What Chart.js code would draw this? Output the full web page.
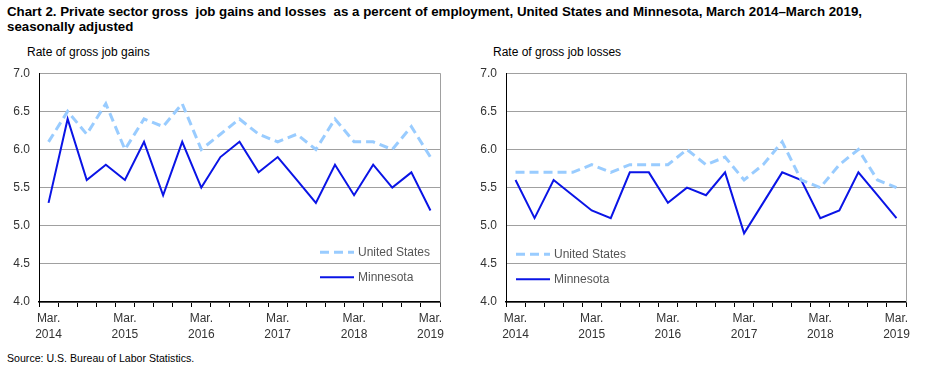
<!DOCTYPE html>
<html>
<head>
<meta charset="utf-8">
<script src="https://cdn.jsdelivr.net/npm/chart.js@4"></script>
<style>
  body { margin: 0; width: 930px; height: 372px; background: #fff; font-family: "Liberation Sans", Arial, sans-serif; position: relative; overflow: hidden; }
  #title { position: absolute; left: 7px; top: 4px; width: 900px; font-size: 13.3px; font-weight: bold; line-height: 15px; color: #000; }
  .sub { position: absolute; top: 45px; font-size: 12px; color: #000; }
  #source { position: absolute; left: 7px; top: 352px; font-size: 10.6px; color: #000; }
  .box { position: absolute; top: 57px; width: 465px; height: 290px; }
</style>
</head>
<body>
<div id="title">Chart 2. Private sector gross&nbsp; job gains and losses&nbsp; as a percent of employment, United States and Minnesota, March 2014–March 2019,<br>seasonally adjusted</div>
<div class="sub" style="left:27px">Rate of gross job gains</div>
<div class="sub" style="left:493px">Rate of gross job losses</div>
<div class="box" style="left:0"><canvas id="gainsChart"></canvas></div>
<div class="box" style="left:465px"><canvas id="lossesChart"></canvas></div>
<div id="source">Source: U.S. Bureau of Labor Statistics.</div>
<script>
// Quarterly, March 2014 - March 2019 (21 quarters)
const quarters = [
  ['Mar.', '2014'], '', '', '',
  ['Mar.', '2015'], '', '', '',
  ['Mar.', '2016'], '', '', '',
  ['Mar.', '2017'], '', '', '',
  ['Mar.', '2018'], '', '', '',
  ['Mar.', '2019']
];

const gainsUS = [6.1, 6.5, 6.2, 6.6, 6.0, 6.4, 6.3, 6.6, 6.0, 6.2, 6.4, 6.2, 6.1, 6.2, 6.0, 6.4, 6.1, 6.1, 6.0, 6.3, 5.9];
const gainsMN = [5.3, 6.4, 5.6, 5.8, 5.6, 6.1, 5.4, 6.1, 5.5, 5.9, 6.1, 5.7, 5.9, 5.6, 5.3, 5.8, 5.4, 5.8, 5.5, 5.7, 5.2];
const lossesUS = [5.7, 5.7, 5.7, 5.7, 5.8, 5.7, 5.8, 5.8, 5.8, 6.0, 5.8, 5.9, 5.6, 5.8, 6.1, 5.6, 5.5, 5.8, 6.0, 5.6, 5.5];
const lossesMN = [5.6, 5.1, 5.6, 5.4, 5.2, 5.1, 5.7, 5.7, 5.3, 5.5, 5.4, 5.7, 4.9, 5.3, 5.7, 5.6, 5.1, 5.2, 5.7, 5.4, 5.1];

const seriesNames = ['United States', 'Minnesota'];
const yTicks = [4.0, 4.5, 5.0, 5.5, 6.0, 6.5, 7.0];

// legend inside plot + gray right border
const panelDecor = {
  id: 'panelDecor',
  afterDraw(chart, args, opts) {
    const { ctx, chartArea } = chart;
    ctx.save();
    ctx.strokeStyle = '#a0a0a0';
    ctx.lineWidth = 1;
    ctx.beginPath();
    ctx.moveTo(chartArea.right + 0.5, chartArea.top);
    ctx.lineTo(chartArea.right + 0.5, chartArea.bottom);
    ctx.stroke();

    chart.data.datasets.forEach((ds, i) => {
      const x = chartArea.left + opts.x;
      const y = chartArea.top + opts.y + i * 25;
      ctx.strokeStyle = ds.borderColor;
      ctx.lineWidth = ds.borderWidth;
      ctx.setLineDash(ds.borderDash || []);
      ctx.beginPath();
      ctx.moveTo(x, y);
      ctx.lineTo(x + 34, y);
      ctx.stroke();
      ctx.setLineDash([]);
      ctx.fillStyle = '#555';
      ctx.font = '12px "Liberation Sans", Arial, sans-serif';
      ctx.textBaseline = 'middle';
      ctx.fillText(ds.label, x + 38, y);
    });
    ctx.restore();
  }
};

function makePanel(id, us, mn, yAxisWidth, padRight, legendX, legendY) {
  return new Chart(document.getElementById(id), {
    type: 'line',
    data: {
      labels: quarters,
      datasets: [{
        label: seriesNames[0],
        data: us,
        borderColor: '#99ccff',
        borderWidth: 3,
        borderDash: [9, 5],
        pointRadius: 0,
        tension: 0
      }, {
        label: seriesNames[1],
        data: mn,
        borderColor: '#0a14e6',
        borderWidth: 2,
        pointRadius: 0,
        tension: 0
      }]
    },
    options: {
      responsive: true,
      maintainAspectRatio: false,
      animation: false,
      layout: { padding: { top: 7, right: padRight, left: 0, bottom: 0 } },
      plugins: {
        legend: { display: false },
        tooltip: { enabled: false },
        panelDecor: { x: legendX, y: legendY }
      },
      scales: {
        x: {
          offset: true,
          grid: { offset: true, drawOnChartArea: false, drawTicks: true, tickLength: 5, color: '#000' },
          border: { color: '#000', width: 1.5 },
          ticks: {
            autoSkip: false, maxRotation: 0, padding: 4,
            color: '#333',
            font: { family: '"Liberation Sans", Arial, sans-serif', size: 12, lineHeight: 1.3 }
          },
          afterFit(scale) { scale.height = 45; }
        },
        y: {
          min: 4, max: 7,
          afterBuildTicks(scale) { scale.ticks = yTicks.map(v => ({ value: v })); },
          grid: { color: '#a0a0a0', drawTicks: false },
          border: { color: '#000', width: 1 },
          ticks: {
            padding: 9,
            color: '#333',
            font: { family: '"Liberation Sans", Arial, sans-serif', size: 12 },
            callback: v => v.toFixed(1)
          },
          afterFit(scale) { scale.width = yAxisWidth; }
        }
      }
    },
    plugins: [panelDecor]
  });
}

makePanel('gainsChart', gainsUS, gainsMN, 39, 25, 281, 179);
makePanel('lossesChart', lossesUS, lossesMN, 41, 24, 10, 181);
</script>
</body>
</html>
